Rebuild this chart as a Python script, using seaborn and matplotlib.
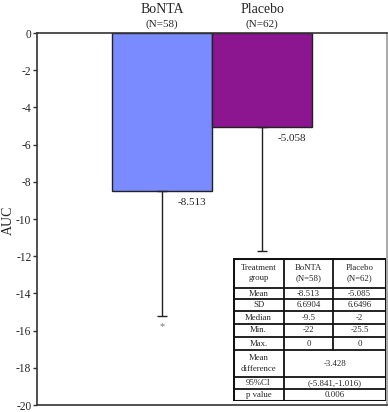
import matplotlib.pyplot as plt
import seaborn as sns
import pandas as pd
import numpy as np

groups = ["BoNTA", "Placebo"]
group_n = ["(N=58)", "(N=62)"]
means = [-8.513, -5.058]
sds = [6.6904, 6.6496]
bar_labels = ["-8.513", "-5.058"]
outlier_group = "BoNTA"
outlier_value = -15.8
colors = ["#7a8bff", "#8c168f"]

table_rows = [
    ["Treatment\ngroup", "BoNTA\n(N=58)", "Placebo\n(N=62)"],
    ["Mean", "-8.513", "-5.085"],
    ["SD", "6.6904", "6.6496"],
    ["Median", "-9.5", "-2"],
    ["Min.", "-22", "-25.5"],
    ["Max.", "0", "0"],
    ["Mean\ndifference", "-3.428"],
    ["95%CI", "(-5.841,-1.016)"],
    ["p value", "0.006"],
]

W, H = 388, 412


def main():
    sns.set_style("white")
    plt.rcParams["font.family"] = ["Liberation Serif", "DejaVu Serif"]
    plt.rcParams["axes.unicode_minus"] = False

    fig = plt.figure(figsize=(W / 100, H / 100), dpi=100)
    ax = fig.add_axes([37 / W, 7 / H, 350 / W, 372 / H])
    plot_bars(ax)
    plot_table(fig)
    fig.savefig("out.png", dpi=100)


def plot_bars(ax):
    df = pd.DataFrame({"group": groups, "mean": means, "sd": sds})
    sns.barplot(df, x="group", y="mean", hue="group", palette=colors,
                saturation=1, width=1.0, errorbar=None, legend=False, ax=ax,
                edgecolor="#222222", linewidth=1.0)

    xs = np.arange(len(groups))
    ax.errorbar(xs, df["mean"], yerr=[df["sd"], np.zeros(len(groups))],
                fmt="none", ecolor="#222222", elinewidth=1.0, capsize=3.5,
                capthick=1.0)

    ox = groups.index(outlier_group)
    ax.text(ox, outlier_value, "*", ha="center", va="center", fontsize=7.5,
            color="#777777")

    for i, (m, lab) in enumerate(zip(means, bar_labels)):
        ax.text(i + 0.16, m - 0.6, lab, ha="left", va="center", fontsize=8)

    for i, (g, n) in enumerate(zip(groups, group_n)):
        ax.text(i, 1.27, g, ha="center", va="center", fontsize=10,
                clip_on=False)
        ax.text(i, 0.47, n, ha="center", va="center", fontsize=8,
                clip_on=False)

    ax.set_xlim(-1.25, 2.25)
    ax.set_ylim(-20, 0)
    ax.set_yticks(np.arange(-20, 1, 2))
    ax.set_xticks([])
    ax.set_xlabel("")
    ax.set_ylabel("AUC", fontsize=10)
    ax.yaxis.set_label_coords(-0.064, 0.497)
    ax.tick_params(axis="y", direction="out", length=3, width=1,
                   labelsize=8.3, pad=1, left=True, color="#333333")
    for side in ["left", "top", "bottom"]:
        ax.spines[side].set_color("#333333")
        ax.spines[side].set_linewidth(1.2)
    ax.spines["right"].set_color("#999999")
    ax.spines["right"].set_linewidth(1.2)


def plot_table(fig):
    left, right, top, bottom = 233, 386, 258, 401
    tax = fig.add_axes([left / W, (H - bottom) / H, (right - left) / W,
                        (bottom - top) / H])
    tax.set_xlim(left, right)
    tax.set_ylim(bottom, top)
    tax.axis("off")

    cols = [233, 284, 333, 386]
    rows = [258, 288, 299, 311, 324, 337, 350, 377, 389, 401]
    lc = "#111111"
    fs = 6.3

    tax.add_patch(plt.Rectangle((left, top), right - left, bottom - top,
                                facecolor="white", edgecolor="none"))
    for y in rows[1:-1]:
        tax.plot([left, right], [y, y], color=lc, lw=1.3)
    for x in cols[1:-1]:
        tax.plot([x, x], [top, rows[6]], color=lc, lw=1.3)
    tax.plot([cols[1], cols[1]], [rows[6], bottom], color=lc, lw=1.3)
    tax.add_patch(plt.Rectangle((left, top), right - left, bottom - top,
                                facecolor="none", edgecolor=lc, lw=2.2))

    for r, cells in enumerate(table_rows):
        yc = (rows[r] + rows[r + 1]) / 2
        tax.text((cols[0] + cols[1]) / 2, yc, cells[0], ha="center",
                 va="center", fontsize=fs, linespacing=1.5)
        if len(cells) == 3:
            for c in (1, 2):
                tax.text((cols[c] + cols[c + 1]) / 2, yc, cells[c],
                         ha="center", va="center", fontsize=fs,
                         linespacing=1.5)
        else:
            tax.text((cols[1] + cols[3]) / 2, yc, cells[1], ha="center",
                     va="center", fontsize=fs)


if __name__ == "__main__":
    main()
